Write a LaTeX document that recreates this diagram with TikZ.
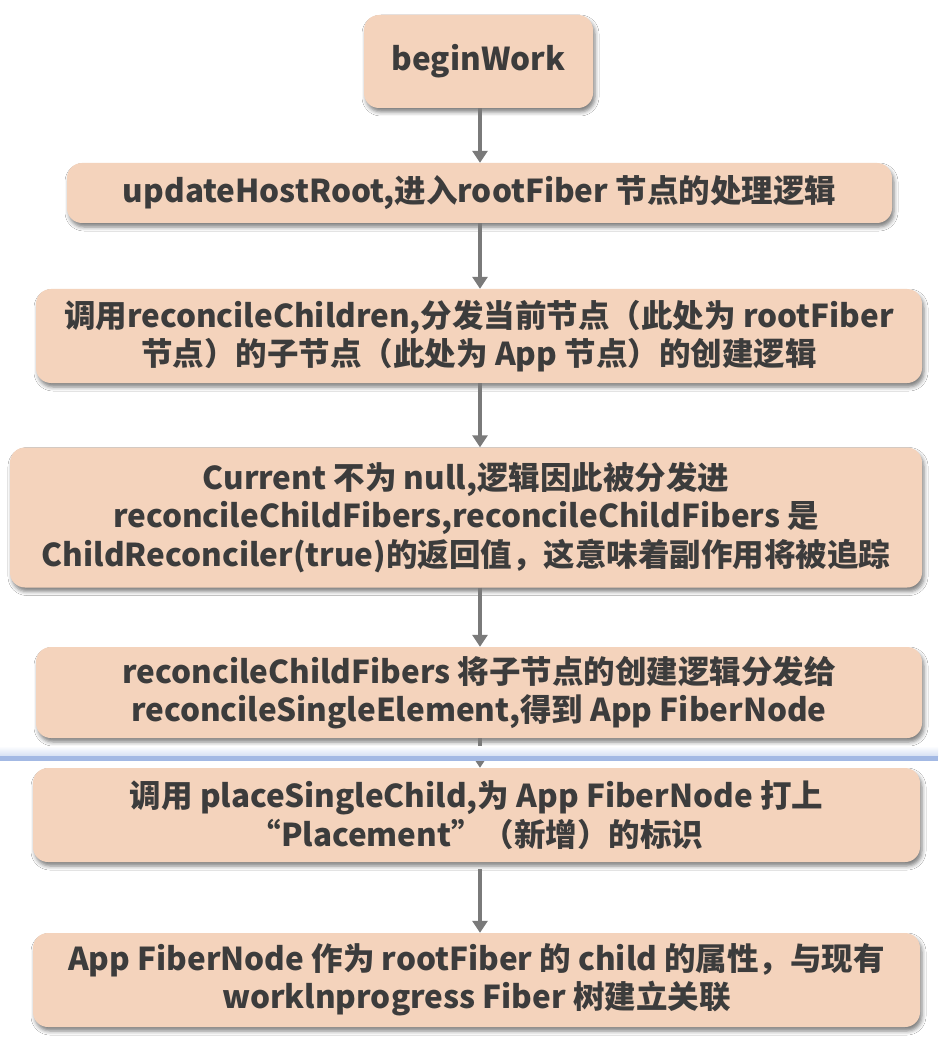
\documentclass[tikz,border=0pt]{standalone}
\usepackage{fontspec}
\setmainfont{Noto Sans CJK SC}
\usetikzlibrary{arrows.meta,shadows.blur}
\definecolor{boxfill}{HTML}{F4D3BC}
\definecolor{txt}{HTML}{3C3C3C}
\definecolor{arr}{HTML}{7A7A7A}
\definecolor{bline}{HTML}{A3B9E4}
\begin{document}
\begin{tikzpicture}[x=1pt,y=-1pt,
  flowbox/.style={draw=none,fill=boxfill,rounded corners=15pt,inner sep=0pt,
    align=center,text=txt,font=\bfseries\fontsize{31.5}{38.5}\selectfont,
    blur shadow={shadow xshift=2pt,shadow yshift=-4pt,shadow blur radius=4pt,shadow opacity=50}},
  flowarrow/.style={draw=arr,line width=4.5pt,-{Triangle[width=15pt,length=12pt]}}]
\useasboundingbox[fill=white] (0,0) rectangle (938,1040);
\node[flowbox,minimum width=229pt,minimum height=93pt] (b1) at (478.5,61.5) {beginWork};
\node[flowbox,minimum width=825pt,minimum height=60pt] (b2) at (479.5,193) {updateHostRoot,进入rootFiber 节点的处理逻辑};
\node[flowbox,minimum width=886pt,minimum height=94pt] (b3) at (479,336) {调用reconcileChildren,分发当前节点（此处为 rootFiber\\节点）的子节点（此处为 App 节点）的创建逻辑};
\node[flowbox,minimum width=912pt,minimum height=140pt] (b4) at (466,517.5) {Current 不为 null,逻辑因此被分发进\\reconcileChildFibers,reconcileChildFibers 是\\ChildReconciler(true)的返回值，这意味着副作用将被追踪};
\node[flowbox,minimum width=886pt,minimum height=91pt] (b5) at (479,692.5) {reconcileChildFibers 将子节点的创建逻辑分发给\\reconcileSingleElement,得到 App FiberNode};
\node[flowbox,minimum width=887pt,minimum height=94pt] (b6) at (476.5,815) {调用 placeSingleChild,为 App FiberNode 打上\\“Placement”（新增）的标识};
\node[flowbox,minimum width=887pt,minimum height=94pt] (b7) at (476.5,980) {App FiberNode 作为 rootFiber 的 child 的属性，与现有\\worklnprogress Fiber 树建立关联};
\coordinate (ax) at (480,0);
\draw[flowarrow] (b1.south -| ax) -- (b2.north -| ax);
\draw[flowarrow] (b2.south -| ax) -- (b3.north -| ax);
\draw[flowarrow] (b3.south -| ax) -- (b4.north -| ax);
\draw[flowarrow] (b4.south -| ax) -- (b5.north -| ax);
\draw[flowarrow] (b5.south -| ax) -- (b6.north -| ax);
\draw[flowarrow] ([yshift=-7pt]b6.south -| ax) -- (b7.north -| ax);
\shade[top color=white,bottom color=bline!45] (0,746) rectangle (938,756);
\fill[bline] (0,756) rectangle (938,760.5);
\end{tikzpicture}
\end{document}
